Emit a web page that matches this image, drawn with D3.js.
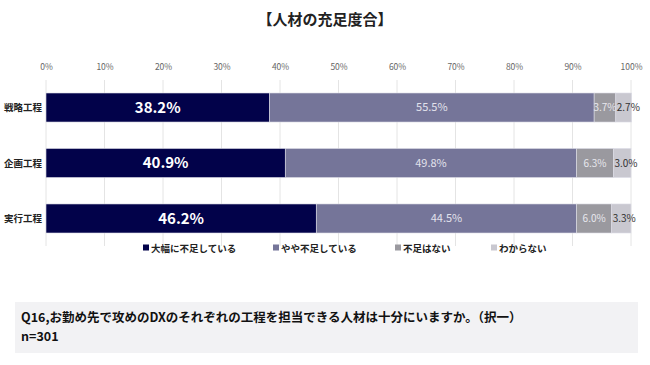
<!DOCTYPE html>
<html>
<head>
<meta charset="utf-8">
<script src="https://cdn.jsdelivr.net/npm/d3@7"></script>
<style>
  body { margin: 0; background: #fff; }
  svg { font-family: "Noto Sans CJK JP", "Noto Sans", sans-serif; }
</style>
</head>
<body>
<svg id="canvas" width="650" height="365"></svg>
<script>
const categories = ['戦略工程', '企画工程', '実行工程']
const seriesNames = ['大幅に不足している', 'やや不足している', '不足はない', 'わからない']
const lack = [38.2, 40.9, 46.2]
const someLack = [55.5, 49.8, 44.5]
const enough = [3.7, 6.3, 6.0]
const unknown = [2.7, 3.0, 3.3]
const ticks = [0, 10, 20, 30, 40, 50, 60, 70, 80, 90, 100]

const colors = ['#02024a', '#757599', '#9a999f', '#c9c8d0']
const labelColors = ['#ffffff', '#e2e2ec', '#e8e8ee', '#333333']

let svg = d3.select('#canvas')

let x = d3.scaleLinear().domain([0, 100]).range([46, 631])
let y = d3.scaleBand().domain(categories).range([93, 233]).paddingInner(0.477).paddingOuter(0)

// title
svg.append('text')
  .attr('x', 325).attr('y', 25)
  .attr('text-anchor', 'middle')
  .attr('font-size', 15).attr('font-weight', 'bold')
  .attr('fill', '#222')
  .text('【人材の充足度合】')

// grid
svg.append('g').selectAll('line')
  .data(ticks)
  .enter().append('line')
  .attr('x1', d => x(d)).attr('x2', d => x(d))
  .attr('y1', 80).attr('y2', 246)
  .attr('stroke', '#e4e4e4').attr('stroke-width', 1)

let xAxis = svg.append('g')
  .attr('transform', 'translate(0,73)')
  .call(d3.axisTop(x).tickValues(ticks).tickFormat(d => d + '%').tickSize(0))
xAxis.select('.domain').remove()
xAxis.selectAll('text')
  .attr('font-size', 8.5).attr('fill', '#666')
  .attr('font-family', '"Noto Sans CJK JP", sans-serif')

// category labels
svg.append('g').selectAll('text')
  .data(categories)
  .enter().append('text')
  .attr('x', 4)
  .attr('y', d => y(d) + y.bandwidth() / 2 + 3.5)
  .attr('font-size', 9.5).attr('font-weight', 'bold').attr('fill', '#222')
  .text(d => d)

let rows = categories.map((c, i) => ({ cat: c, vals: [lack[i], someLack[i], enough[i], unknown[i]] }))
let keys = [0, 1, 2, 3]
let stacked = d3.stack().keys(keys).value((d, k) => d.vals[k])(rows)

let layers = svg.append('g').selectAll('g')
  .data(stacked)
  .enter().append('g')
  .attr('fill', (d, i) => colors[i])

layers.selectAll('rect')
  .data(d => d)
  .enter().append('rect')
  .attr('x', d => x(d[0]))
  .attr('y', d => y(d.data.cat))
  .attr('width', d => x(d[1]) - x(d[0]))
  .attr('height', y.bandwidth())
  .attr('stroke', '#dcdce6').attr('stroke-width', 0.6)

const labelSize = [15, 11, 10, 10]
layers.each(function(layer, li) {
  d3.select(this).selectAll('text')
    .data(layer)
    .enter().append('text')
    .attr('x', d => li === 3 ? x(d[0]) + 1 : (x(d[0]) + x(d[1])) / 2)
    .attr('y', d => y(d.data.cat) + y.bandwidth() / 2 + labelSize[li] * 0.36)
    .attr('text-anchor', li === 3 ? 'start' : 'middle')
    .attr('font-size', labelSize[li])
    .attr('font-weight', li === 0 ? 'bold' : 'normal')
    .attr('fill', labelColors[li])
    .text(d => (d[1] - d[0]).toFixed(1) + '%')
})

// legend
const legendX = [143, 273, 395, 491]
let legend = svg.append('g').selectAll('g')
  .data(seriesNames)
  .enter().append('g')
  .attr('transform', (d, i) => `translate(${legendX[i]},248)`)
legend.append('rect')
  .attr('x', 0).attr('y', -3.5).attr('width', 6).attr('height', 6)
  .attr('fill', (d, i) => colors[i])
legend.append('text')
  .attr('x', 8).attr('y', 3.5)
  .attr('font-size', 9.5).attr('font-weight', 'bold').attr('fill', '#222')
  .text(d => d)

// note box
svg.append('rect')
  .attr('x', 15).attr('y', 302).attr('width', 623).attr('height', 51)
  .attr('fill', '#f2f2f4')
svg.append('text')
  .attr('x', 21).attr('y', 322)
  .attr('font-size', 12.5).attr('font-weight', 'bold').attr('fill', '#111')
  .text('Q16,お勤め先で攻めのDXのそれぞれの工程を担当できる人材は十分にいますか。（択一）')
svg.append('text')
  .attr('x', 21).attr('y', 341)
  .attr('font-size', 12.5).attr('font-weight', 'bold').attr('fill', '#111')
  .text('n=301')
</script>
</body>
</html>
